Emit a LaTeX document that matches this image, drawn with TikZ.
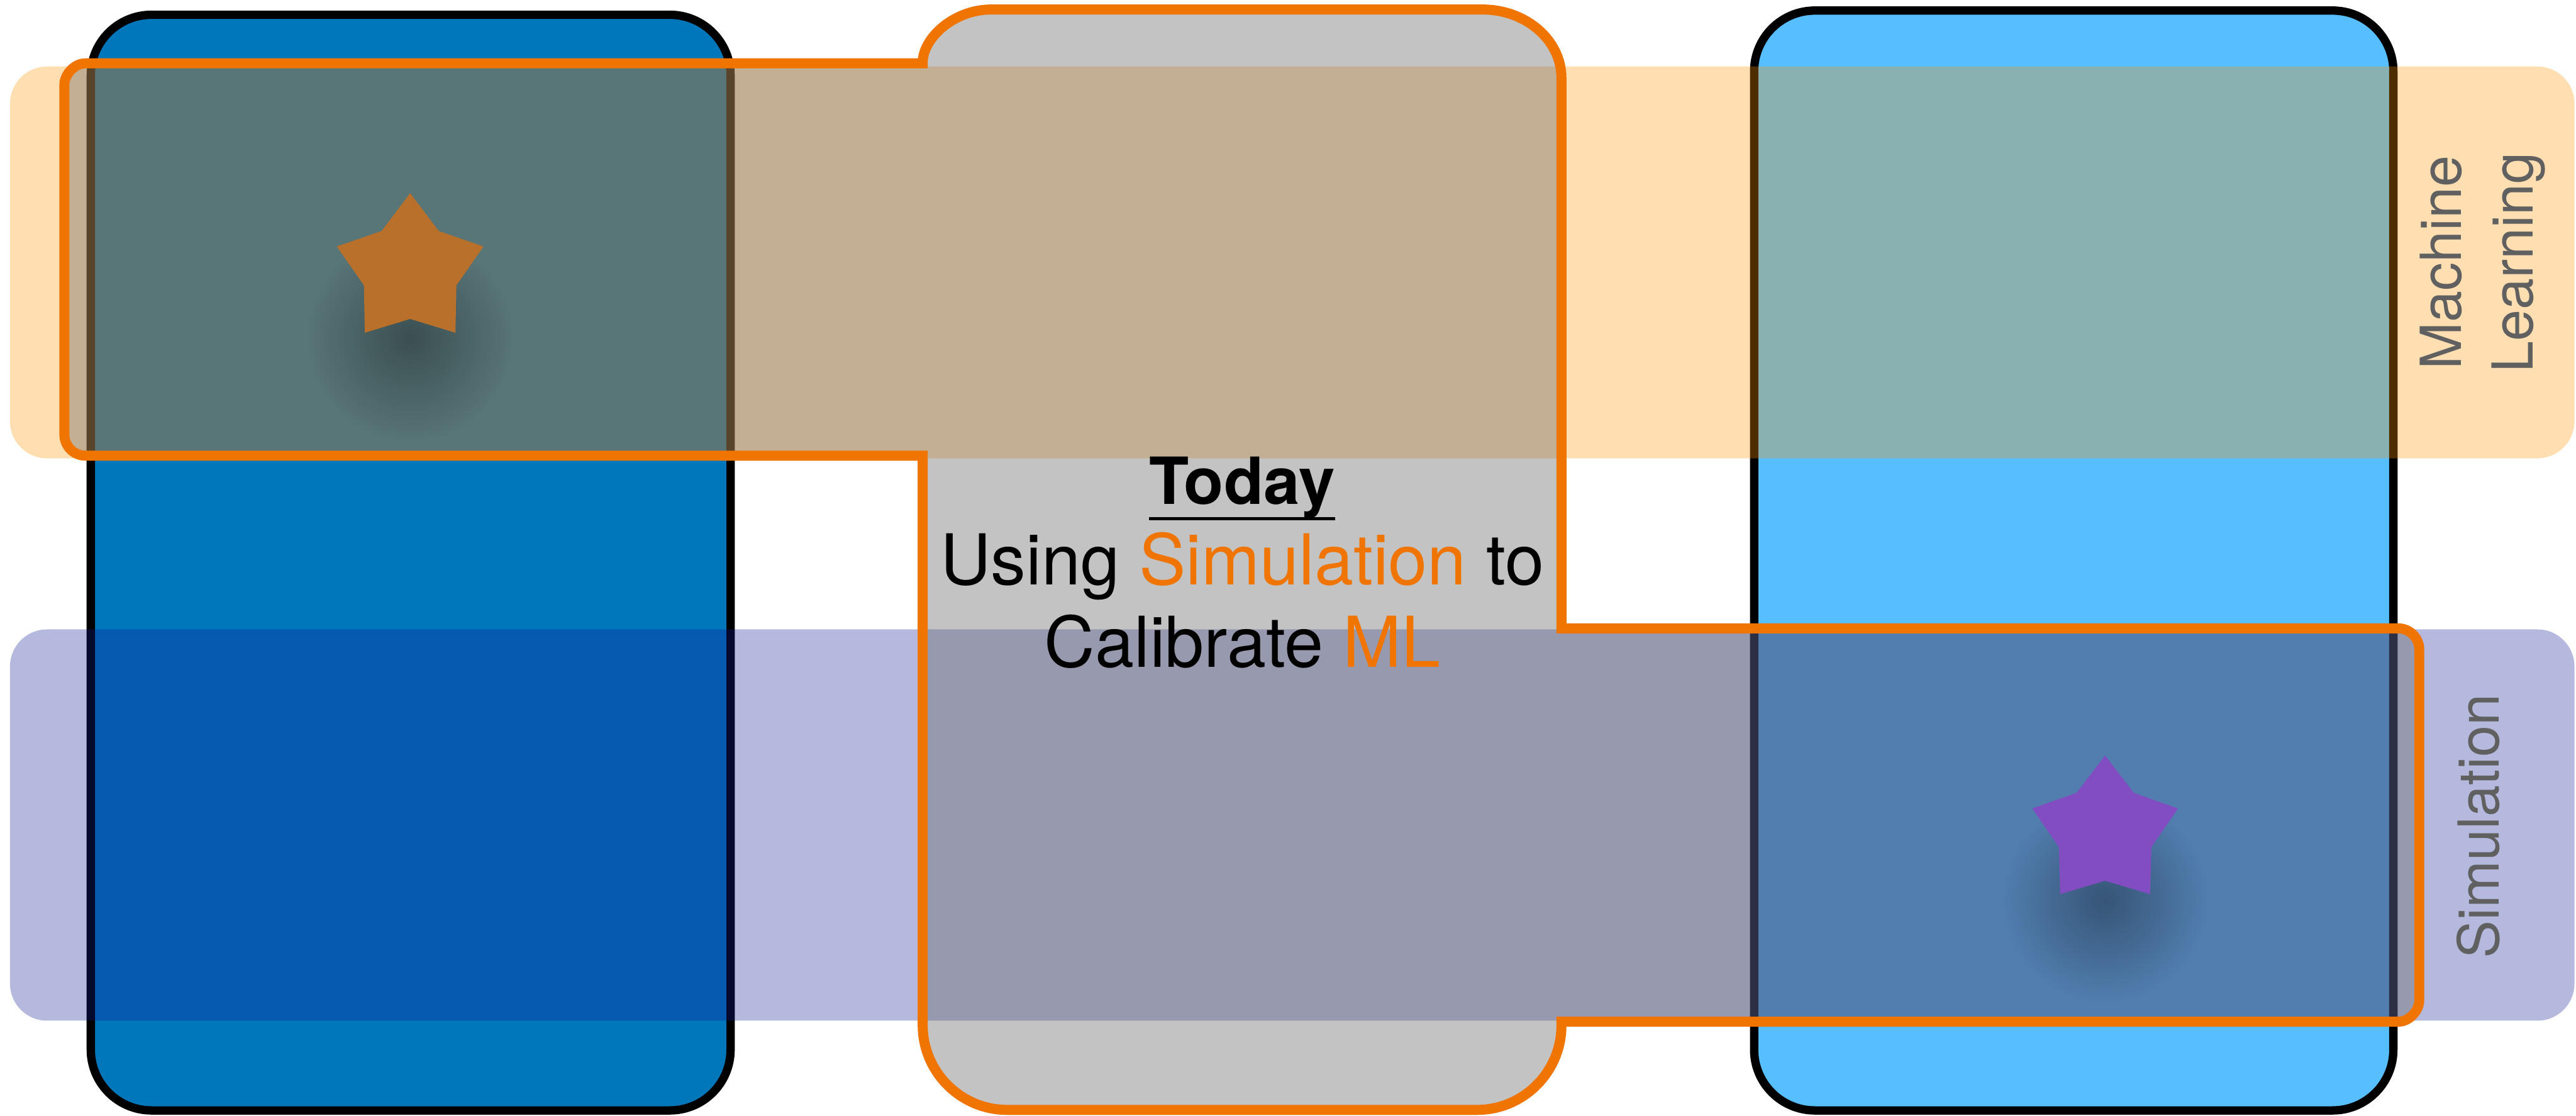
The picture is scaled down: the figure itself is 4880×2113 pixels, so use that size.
\documentclass[tikz,border=0pt]{standalone}
\usepackage{fontspec}
\setmainfont{TeX Gyre Heros}
\usetikzlibrary{fadings}
\definecolor{colA}{RGB}{0,118,187}
\definecolor{colC}{RGB}{87,191,255}
\definecolor{mlband}{RGB}{255,147,0}
\definecolor{simband}{RGB}{20,30,150}
\definecolor{veil}{RGB}{105,105,105}
\definecolor{hl}{RGB}{239,116,0}
\definecolor{staro}{RGB}{185,112,43}
\definecolor{starp}{RGB}{129,77,192}
\definecolor{lab}{RGB}{96,96,96}
\tikzfading[name=softshade, inner color=transparent!0, outer color=transparent!100]
\begin{document}
\begin{tikzpicture}[x=0.01cm, y=-0.01cm,
  colbox/.style={line width=4.5pt, draw=black, rounded corners=1.15cm},
  bandbox/.style={rounded corners=0.7cm},
  mainline/.style={anchor=base, font=\fontsize{37.8}{44}\selectfont},
  sidelabel/.style={rotate=90, align=center, text=lab, font=\fontsize{30.5}{38.7}\selectfont},
  starshadow/.style={fill=black, fill opacity=0.32, path fading=softshade}]
\useasboundingbox (0,0) rectangle (4880,2113);
\fill[white] (0,0) rectangle (4880,2113);

% columns
\path[colbox, fill=colA] (172,28) rectangle (1384,2103);
\path[colbox, fill=colC] (3323,20) rectangle (4534,2103);

% bands
\fill[bandbox, mlband, opacity=0.3] (19,126) rectangle (4877,868);
\fill[bandbox, simband, opacity=0.31] (19,1192) rectangle (4877,1933);

% combined highlighted shape
\path[fill=veil, fill opacity=0.4, draw=hl, line width=5.4pt]
  (1748,120) -- (162,120)
  .. controls (140,120) and (122,142) .. (122,160)
  -- (122,823)
  .. controls (122,845) and (140,863) .. (162,863)
  -- (1748,863) -- (1748,1942)
  .. controls (1748,2030) and (1820,2102) .. (1908,2102)
  -- (2798,2102)
  .. controls (2886,2102) and (2958,2030) .. (2958,1942)
  -- (2958,1935) -- (4543,1935)
  .. controls (4565,1935) and (4583,1913) .. (4583,1895)
  -- (4583,1230)
  .. controls (4583,1208) and (4565,1190) .. (4543,1190)
  -- (2958,1190) -- (2958,148)
  .. controls (2958,76) and (2891,18) .. (2808,18)
  -- (1878,18)
  .. controls (1806,18) and (1748,73) .. (1748,118)
  -- cycle;

% stars
\fill[starshadow] (777,640) circle (1.95cm);
\begin{scope}[shift={(777,512)}]
  \fill[staro] (90:1.46cm) -- (126:0.92cm) -- (162:1.46cm) -- (198:0.92cm) -- (234:1.46cm)
    -- (270:0.92cm) -- (306:1.46cm) -- (342:0.92cm) -- (18:1.46cm) -- (54:0.92cm) -- cycle;
\end{scope}
\fill[starshadow] (3988,1704) circle (1.95cm);
\begin{scope}[shift={(3988,1576)}]
  \fill[starp] (90:1.45cm) -- (126:0.92cm) -- (162:1.45cm) -- (198:0.92cm) -- (234:1.45cm)
    -- (270:0.92cm) -- (306:1.45cm) -- (342:0.92cm) -- (18:1.45cm) -- (54:0.92cm) -- cycle;
\end{scope}

% central text
\node[anchor=base, inner sep=0pt, font=\fontsize{35}{42}\selectfont\bfseries] (today) at (2353,955) {Today};
\draw[line width=1.8pt] (today.south west) -- (today.south east);
\node[mainline] (usingsim) at (2353,1108) {Using \textcolor{hl}{Simulation} to};
\node[mainline] (calib) at (2354,1263) {Calibrate \textcolor{hl}{ML}};

% side labels
\node[sidelabel] (mllabel) at (4703,497) {Machine\\Learning};
\node[sidelabel] (simlabel) at (4695,1565) {Simulation};
\end{tikzpicture}
\end{document}
